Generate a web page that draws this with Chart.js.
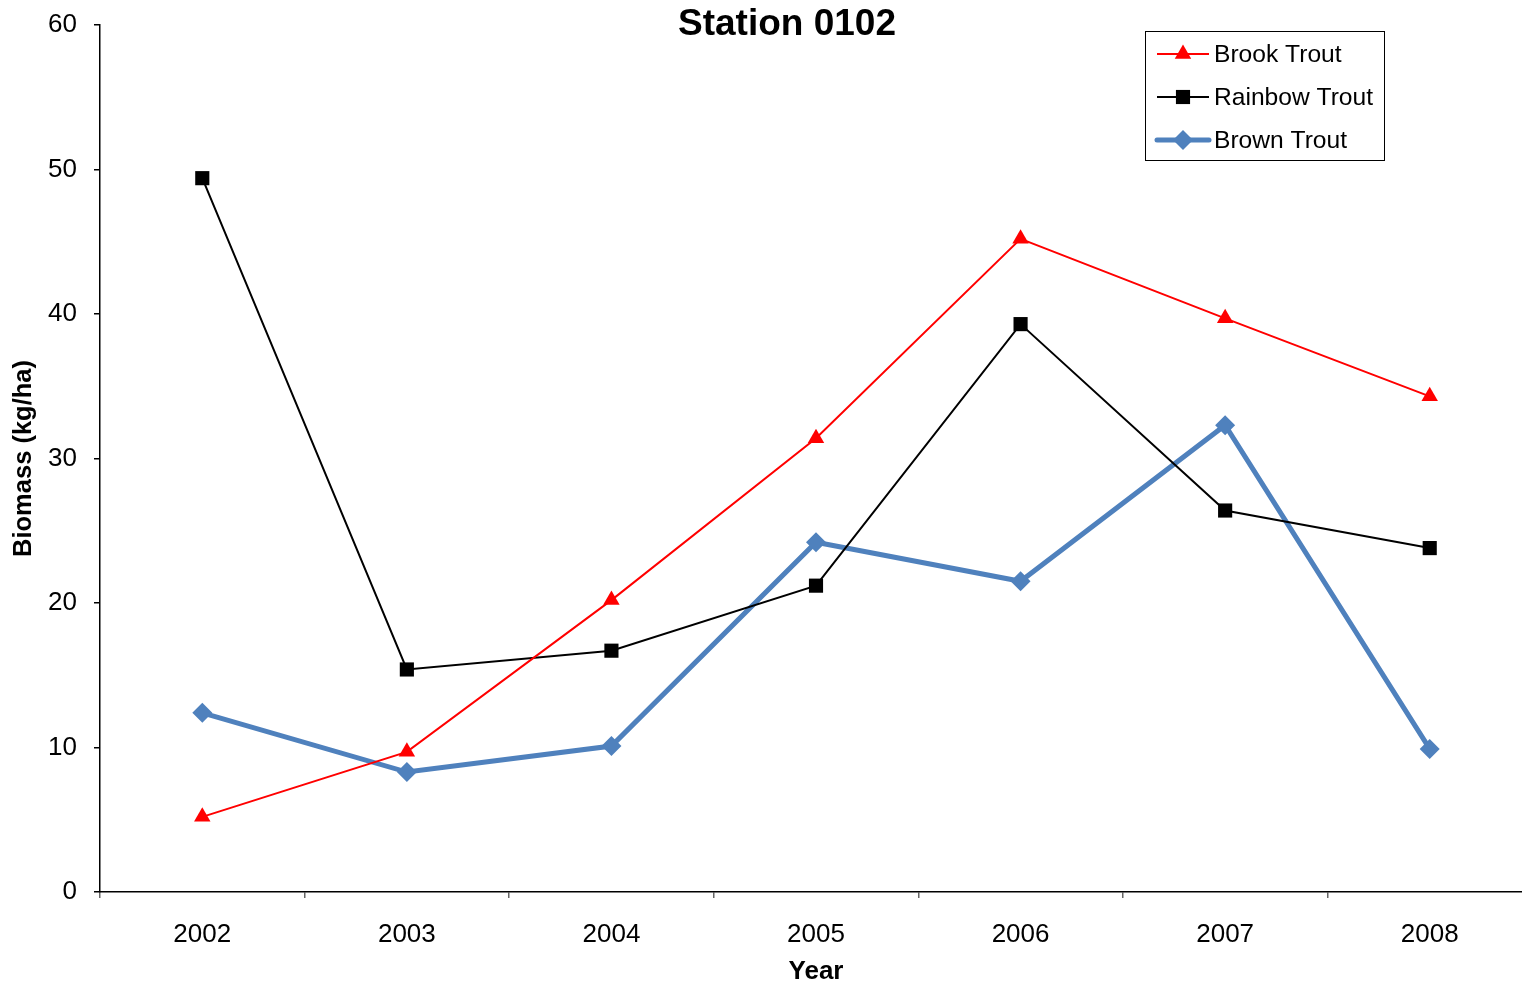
<!DOCTYPE html>
<html>
<head>
<meta charset="utf-8">
<title>Station 0102</title>
<script src="https://cdn.jsdelivr.net/npm/chart.js@4.4.1/dist/chart.umd.min.js"></script>
<style>
  html, body { margin: 0; padding: 0; background: #fff; overflow: hidden; }
  #wrap { width: 1522px; height: 986px; overflow: hidden; }
</style>
</head>
<body>
<div id="wrap"><canvas id="chart" width="1542" height="986"></canvas></div>
<script>
// ── Data ──────────────────────────────────────────────────────────────
const years        = ['2002', '2003', '2004', '2005', '2006', '2007', '2008'];
const brookTrout   = [5.2, 9.7, 20.2, 31.4, 45.2, 39.7, 34.3];
const rainbowTrout = [49.4, 15.4, 16.7, 21.2, 39.3, 26.4, 23.8];
const brownTrout   = [12.4, 8.3, 10.1, 24.2, 21.5, 32.3, 9.9];
const yTicks       = [0, 10, 20, 30, 40, 50, 60];

const FONT = '"Liberation Sans", Arial, sans-serif';

// ── Title + boxed legend (drawn by hand to match the original layout) ──
function marker(ctx, style, x, y, r, color) {
    ctx.save();
    ctx.fillStyle = color;
    ctx.beginPath();
    if (style === 'triangle') {
        ctx.moveTo(x, y - r);
        ctx.lineTo(x + r * 0.866, y + r * 0.5);
        ctx.lineTo(x - r * 0.866, y + r * 0.5);
    } else if (style === 'rect') {
        const s = r * Math.SQRT1_2;
        ctx.rect(x - s, y - s, 2 * s, 2 * s);
    } else {
        ctx.moveTo(x, y - r);
        ctx.lineTo(x + r, y);
        ctx.lineTo(x, y + r);
        ctx.lineTo(x - r, y);
    }
    ctx.closePath();
    ctx.fill();
    ctx.restore();
}

const decorations = {
    id: 'decorations',
    afterDraw(chart) {
        const ctx = chart.ctx;
        ctx.save();
        ctx.fillStyle = '#000';
        ctx.font = 'bold 37px ' + FONT;
        ctx.textAlign = 'center';
        ctx.textBaseline = 'middle';
        ctx.fillText('Station 0102', 787, 25);

        // legend box
        ctx.strokeStyle = '#000';
        ctx.lineWidth = 1;
        ctx.strokeRect(1145.5, 31.5, 239, 129);
        ctx.font = '24.6px ' + FONT;
        ctx.textAlign = 'left';
        chart.data.datasets.forEach((ds, i) => {
            const y = 54 + i * 43;
            ctx.strokeStyle = ds.borderColor;
            ctx.lineWidth = ds.borderWidth;
            ctx.lineCap = ds.borderWidth > 3 ? 'round' : 'butt';
            ctx.beginPath();
            ctx.moveTo(1157, y);
            ctx.lineTo(1209, y);
            ctx.stroke();
            marker(ctx, ds.pointStyle, 1183, y, ds.pointRadius, ds.pointBackgroundColor);
            ctx.fillStyle = '#000';
            ctx.fillText(ds.label, 1214, y + 1);
        });
        ctx.restore();
    }
};

// ── Chart ─────────────────────────────────────────────────────────────
new Chart(document.getElementById('chart'), {
    type: 'line',
    data: {
        labels: years,
        datasets: [
            {
                label: 'Brook Trout', data: brookTrout,
                borderColor: '#FF0000', borderWidth: 2,
                pointStyle: 'triangle', pointRadius: 9.5,
                pointBackgroundColor: '#FF0000', pointBorderColor: '#FF0000', pointBorderWidth: 0,
            },
            {
                label: 'Rainbow Trout', data: rainbowTrout,
                borderColor: '#000000', borderWidth: 2,
                pointStyle: 'rect', pointRadius: 10,
                pointBackgroundColor: '#000000', pointBorderColor: '#000000', pointBorderWidth: 0,
            },
            {
                label: 'Brown Trout', data: brownTrout,
                borderColor: '#4F81BD', borderWidth: 5,
                pointStyle: 'rectRot', pointRadius: 10,
                pointBackgroundColor: '#4F81BD', pointBorderColor: '#4F81BD', pointBorderWidth: 0,
            },
        ],
    },
    options: {
        responsive: false,
        animation: false,
        layout: { padding: { top: 25, right: 3, left: 0, bottom: 0 } },
        plugins: {
            legend: { display: false },
            title: { display: false },
            tooltip: { enabled: false },
        },
        scales: {
            x: {
                offset: true,
                grid: { drawOnChartArea: false, offset: true, tickLength: 6, color: '#666', lineWidth: 1.5 },
                border: { display: true, color: '#000', width: 1.5 },
                ticks: { color: '#000', font: { family: FONT, size: 26 }, padding: 21, maxRotation: 0 },
                title: { display: true, text: 'Year', color: '#000',
                         font: { family: FONT, size: 26, weight: 'bold', lineHeight: 1.1 }, padding: { top: 0, bottom: 0 } },
                afterFit(scale) {
                    scale.height = 94;
                    scale.paddingLeft = 0; scale.paddingRight = 0;
                },
            },
            y: {
                min: 0, max: 60,
                afterBuildTicks(scale) { scale.ticks = yTicks.map(v => ({ value: v })); },
                grid: { drawOnChartArea: false, tickLength: 6, color: '#000', lineWidth: 1.5 },
                border: { display: true, color: '#000', width: 1.5 },
                ticks: { color: '#000', font: { family: FONT, size: 26 }, padding: 17 },
                title: { display: true, text: 'Biomass (kg/ha)', color: '#000',
                         font: { family: FONT, size: 25.5, weight: 'bold' }, padding: { top: 9, bottom: 0 } },
                afterFit(scale) {
                    scale.width = 100;
                    scale.paddingTop = 0; scale.paddingBottom = 0;
                },
            },
        },
    },
    plugins: [decorations],
});
</script>
</body>
</html>
